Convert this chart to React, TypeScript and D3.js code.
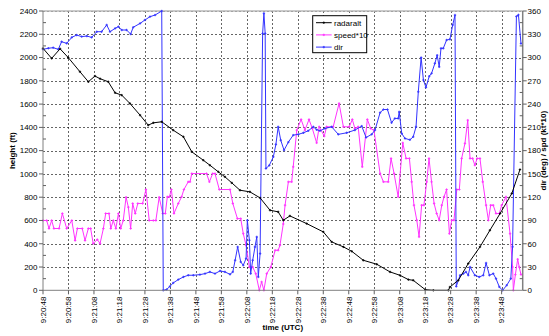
import React from "react";
import * as d3 from "d3";

// time in seconds after 9:20:48 UTC
const radaralt: [number, number][] = [
  [0, 2079], [3.4, 1993], [6.7, 2075], [9.9, 2000], [14.5, 1878], [17.8, 1792], [20.4, 1841],
  [22.4, 1818], [25.6, 1792], [28.3, 1697], [30.9, 1677], [34.1, 1606], [38.1, 1505], [41.3, 1419],
  [43.3, 1439], [46.6, 1448], [51.1, 1376], [55.1, 1319], [58.4, 1190], [62.9, 1118], [65.5, 1075],
  [68.8, 1018], [71.4, 975], [74.1, 923], [77.3, 860], [81.2, 846], [85.2, 794], [89.1, 688],
  [92.3, 674], [94.3, 602], [96.9, 639], [103.5, 573], [110, 502], [113.3, 416], [117.9, 373],
  [121.2, 335], [125.7, 258], [131, 224], [136.2, 158], [140.1, 129], [143.4, 92], [145.3, 86],
  [150, 6], [153.2, 0], [159.1, 0], [159.7, 28], [163, 86], [166.9, 230], [171.5, 373],
  [175.4, 516], [179.4, 660], [184, 832], [187.2, 1038],
];

const speed10: [number, number][] = [
  [0, 600], [1.45, 600], [2.35, 531], [3.4, 600], [4.3, 531], [6.3, 531], [7.6, 660], [9.3, 531],
  [11.3, 600], [12.6, 428], [13.5, 531], [15.4, 531], [16.5, 428], [17.8, 531], [18.7, 531],
  [19.7, 402], [21.3, 436], [22.4, 402], [23.7, 531], [24.6, 660], [25.9, 660], [26.6, 531],
  [27.6, 600], [28.6, 531], [29.6, 660], [30.5, 531], [31.5, 600], [32.6, 800], [33.5, 714],
  [34.4, 531], [35.2, 746], [36.2, 660], [37.2, 746], [39.1, 746], [40.4, 866], [41.7, 600],
  [43.3, 600], [44.3, 600], [45.6, 800], [47.0, 660], [48.0, 660], [48.8, 803], [49.6, 803],
  [50.4, 866], [51.4, 660], [53.1, 746], [54.4, 803], [55.3, 866], [57.0, 932], [57.7, 932],
  [58.4, 1003], [64.2, 1003], [65.3, 932], [66.6, 1003], [67.5, 1003], [69.2, 866], [73.4, 866],
  [74.5, 746], [76.3, 616], [77.6, 616], [78.6, 487], [79.7, 387], [81.0, 200], [82.3, 200],
  [83.5, 143], [84.9, 0], [85.8, 72], [86.7, 0], [87.8, 143], [89.4, 200], [91.1, 344],
  [92.3, 344], [93.0, 387], [94.3, 570], [95.0, 731], [96.3, 932], [97.6, 932], [98.2, 1061],
  [99.6, 1376], [101.3, 1468], [102.8, 1376], [104.4, 1468], [105.7, 1391], [107.4, 1267],
  [108.4, 1405], [110.4, 1325], [111.3, 1405], [113.9, 1405], [116.2, 1606], [117.9, 1405],
  [120.2, 1405], [121.4, 1468], [122.4, 1391], [123.7, 1405], [125.3, 1061], [127.3, 1468],
  [128.6, 1391], [129.9, 1376], [132.3, 1003], [133.6, 932], [135.5, 932], [136.6, 1133],
  [137.8, 1003], [139.4, 803], [141.2, 1267], [142.5, 1133], [143.8, 1133], [144.7, 932],
  [145.6, 731], [146.7, 602], [147.6, 459], [148.6, 731], [149.5, 731], [150.6, 932],
  [151.5, 1133], [152.5, 932], [153.5, 746], [154.5, 660], [155.5, 602], [156.5, 731],
  [157.4, 803], [158.4, 866], [159.5, 487], [160.4, 602], [161.3, 602], [162.4, 866],
  [163.4, 866], [164.3, 1133], [165.6, 1262], [166.7, 1462], [167.6, 1133], [168.6, 1133],
  [169.5, 1075], [170.4, 1133], [171.5, 1133], [172.6, 932], [173.9, 731], [174.8, 602],
  [175.7, 731], [176.7, 731], [177.8, 660], [179.1, 660], [180.0, 731], [181.7, 803],
  [183.3, 487], [184.3, 200], [184.6, 0], [185.4, 135], [186.3, 267], [186.9, 200], [187.6, 135],
];

const dir: [number, number][] = [
  [0, 310.6], [2.1, 312], [4.0, 312.7], [6.0, 310.6], [7.3, 320.4], [9.3, 318.3], [11.3, 326],
  [13.2, 329], [15.2, 327], [17.2, 327.7], [19.1, 326], [21.1, 333.3], [23.0, 333.3], [25.0, 342],
  [26.3, 333.3], [28.3, 337.6], [29.6, 339.8], [30.9, 335.5], [32.8, 335.5], [34.4, 330.3],
  [35.4, 339], [38.1, 344], [40.0, 348.4], [42.0, 352.7], [44.0, 354.8], [46.6, 360], [47.2, 0],
  [48.5, 1], [49.8, 5], [51.1, 9.5], [53.1, 13.8], [55.1, 17.2], [57.0, 19.4], [59.0, 19.4],
  [61.6, 20.2], [63.6, 21.5], [65.5, 23.7], [67.5, 21.5], [69.5, 25], [71.4, 23.7], [73.4, 20.6],
  [74.5, 23.7], [75.4, 38.7], [76.4, 55.9], [77.6, 36.6], [78.6, 32.3], [79.7, 40.9], [80.2, 90.3],
  [81.0, 64.5], [81.5, 21.5], [82.3, 38.7], [83.2, 55.9], [83.9, 68.8], [84.5, 17.2], [85.2, 47.3],
  [86.2, 331], [86.7, 357], [87.2, 331], [87.5, 157], [88.8, 161], [90.4, 172], [91.4, 188],
  [92.3, 210.7], [93.3, 193.5], [94.6, 180.6], [96.3, 191], [98.2, 200], [100.2, 201], [102.2, 203],
  [104.1, 205.6], [106.1, 210.7], [107.4, 207], [108.7, 205.6], [110.7, 208.6], [113.3, 210.7],
  [115.9, 201], [119.2, 203], [122.4, 206.5], [125.1, 211.6], [126.8, 197], [129.0, 201],
  [130.3, 206.5], [132.3, 229], [133.6, 233], [135.2, 233], [136.8, 216], [138.1, 221.5],
  [139.4, 221.5], [139.8, 230], [140.8, 202], [142.1, 195.7], [144.0, 194], [145.3, 197.8],
  [146.4, 210.7], [147.3, 255.9], [148.4, 300], [149.3, 271], [150.3, 261.5], [151.6, 276],
  [152.5, 279.6], [153.8, 292.5], [154.7, 303], [155.5, 288], [156.2, 311.9], [157.1, 311.9],
  [158.4, 322.6], [159.7, 323.5], [160.8, 342], [161.7, 354.8], [162.2, 5], [163.7, 19.4],
  [165.0, 21.5], [166.0, 23.7], [166.9, 19.4], [167.6, 30], [169.5, 19.4], [171.2, 17.2],
  [172.8, 19.4], [173.9, 35.2], [175.2, 19.4], [176.7, 21.5], [177.8, 15], [179.1, 4.3],
  [180.4, 0], [182.0, 6.5], [183.6, 15], [184.3, 56], [185.8, 353], [186.6, 355], [187.6, 318],
];

const timeTicks = d3.range(0, 181, 10);
const leftTicks = d3.range(0, 2401, 200);
const rightTicks = d3.range(0, 361, 30);
const legendItems = [
  { name: "radaralt", color: "#000000" },
  { name: "speed*10", color: "#ff33ff" },
  { name: "dir", color: "#3333ff" },
];

const FONT = "Arial, 'Liberation Sans', sans-serif";

function fmtTime(s: number) {
  const total = 9 * 3600 + 20 * 60 + 48 + s;
  const h = Math.floor(total / 3600);
  const m = Math.floor((total % 3600) / 60);
  const sec = total % 60;
  return `${h}:${String(m).padStart(2, "0")}:${String(sec).padStart(2, "0")}`;
}

export default function App() {
  const W = 549, H = 336;
  const L = 43, R = 522.7, T = 11, B = 290.3;
  const x = d3.scaleLinear().domain([0, 188.27]).range([L, R]);
  const yL = d3.scaleLinear().domain([0, 2400]).range([B, T]);
  const yR = d3.scaleLinear().domain([0, 360]).range([B, T]);

  const lineL = d3.line<[number, number]>().x((d) => x(d[0])).y((d) => yL(d[1]));
  const lineR = d3.line<[number, number]>().x((d) => x(d[0])).y((d) => yR(d[1]));

  const plus = (cx: number, cy: number, color: string, key: string) => (
    <path key={key} d={`M${cx - 1.2},${cy}H${cx + 1.2}M${cx},${cy - 1.2}V${cy + 1.2}`} stroke={color} strokeWidth={0.9} />
  );

  const series = [
    { data: speed10, color: "#ff33ff", gen: lineL, ys: yL },
    { data: dir, color: "#3333ff", gen: lineR, ys: yR },
    { data: radaralt, color: "#000000", gen: lineL, ys: yL },
  ];

  return (
    <svg width={W} height={H} style={{ position: "absolute", left: 0, top: 0, fontFamily: FONT }}>
      <rect x={0} y={0} width={W} height={H} fill="#ffffff" />
      {/* grid */}
      {leftTicks.slice(1).map((v) => (
        <line key={"gy" + v} x1={L} x2={R} y1={Math.round(yL(v)) + 0.5} y2={Math.round(yL(v)) + 0.5}
          stroke="#000" strokeDasharray="2,2" strokeWidth={1} opacity={0.6} />
      ))}
      {timeTicks.slice(1).map((t) => (
        <line key={"gx" + t} x1={Math.round(x(t)) + 0.5} x2={Math.round(x(t)) + 0.5} y1={T} y2={B}
          stroke="#000" strokeDasharray="2,2" strokeWidth={1} opacity={0.6} />
      ))}
      {/* plot border top */}
      <line x1={L} x2={R} y1={T} y2={T} stroke="#b8b8b8" strokeWidth={1.5} />
      {/* series */}
      {series.map((s, i) => (
        <g key={"s" + i}>
          <path d={s.gen(s.data) || ""} fill="none" stroke={s.color} strokeWidth={1} />
          {s.data.map((d, j) => plus(x(d[0]), s.ys(d[1]), s.color, `m${i}-${j}`))}
        </g>
      ))}
      {/* axes */}
      <line x1={L} x2={L} y1={T} y2={B} stroke="#808080" strokeWidth={1} />
      <line x1={R} x2={R} y1={T} y2={B} stroke="#808080" strokeWidth={1.5} />
      <line x1={L} x2={R} y1={B} y2={B} stroke="#808080" strokeWidth={1} />
      {leftTicks.map((v) => (
        <g key={"lt" + v}>
          <line x1={L - 4} x2={L} y1={yL(v)} y2={yL(v)} stroke="#606060" />
          <text x={37.5} y={yL(v)} dy="0.35em" textAnchor="end" fontSize={8} fill="#000">{v}</text>
        </g>
      ))}
      {d3.range(100, 2400, 200).map((v) => (
        <line key={"lm" + v} x1={L} x2={L + 3} y1={yL(v)} y2={yL(v)} stroke="#606060" />
      ))}
      {rightTicks.map((v) => (
        <g key={"rt" + v}>
          <line x1={R} x2={R + 4} y1={yR(v)} y2={yR(v)} stroke="#606060" />
          <text x={527.5} y={yR(v)} dy="0.35em" textAnchor="start" fontSize={8} fill="#000">{v}</text>
        </g>
      ))}
      {d3.range(15, 360, 30).map((v) => (
        <line key={"rm" + v} x1={R - 3} x2={R} y1={yR(v)} y2={yR(v)} stroke="#606060" />
      ))}
      {timeTicks.map((t) => (
        <g key={"xt" + t}>
          <line x1={x(t)} x2={x(t)} y1={B} y2={B + 4} stroke="#606060" />
          <text transform={`translate(${x(t)},${296.5}) rotate(-90)`} dy="0.35em" textAnchor="end" fontSize={8} fill="#000">
            {fmtTime(t)}
          </text>
        </g>
      ))}
      {/* axis titles */}
      <text x={(L + R) / 2} y={330} textAnchor="middle" fontSize={8} fontWeight="bold">time (UTC)</text>
      <text transform={`translate(12.5,${(T + B) / 2}) rotate(-90)`} dy="0.35em" textAnchor="middle" fontSize={8} fontWeight="bold">
        height (ft)
      </text>
      <text transform={`translate(543.5,${(T + B) / 2}) rotate(-90)`} dy="0.35em" textAnchor="middle" fontSize={8} fontWeight="bold">
        dir (deg) / spd (kt*10)
      </text>
      {/* legend */}
      <g>
        <rect x={312.7} y={15.7} width={54} height={37} fill="#fff" stroke="#000" strokeWidth={1} />
        {legendItems.map((it, i) => {
          const ly = 22.7 + i * 12.2;
          return (
            <g key={"lg" + i}>
              <line x1={316} x2={331.7} y1={ly} y2={ly} stroke={it.color} strokeWidth={1} />
              {plus(323.8, ly, it.color, "lp" + i)}
              <text x={334} y={ly} dy="0.35em" fontSize={8} fill="#000">{it.name}</text>
            </g>
          );
        })}
      </g>
    </svg>
  );
}
